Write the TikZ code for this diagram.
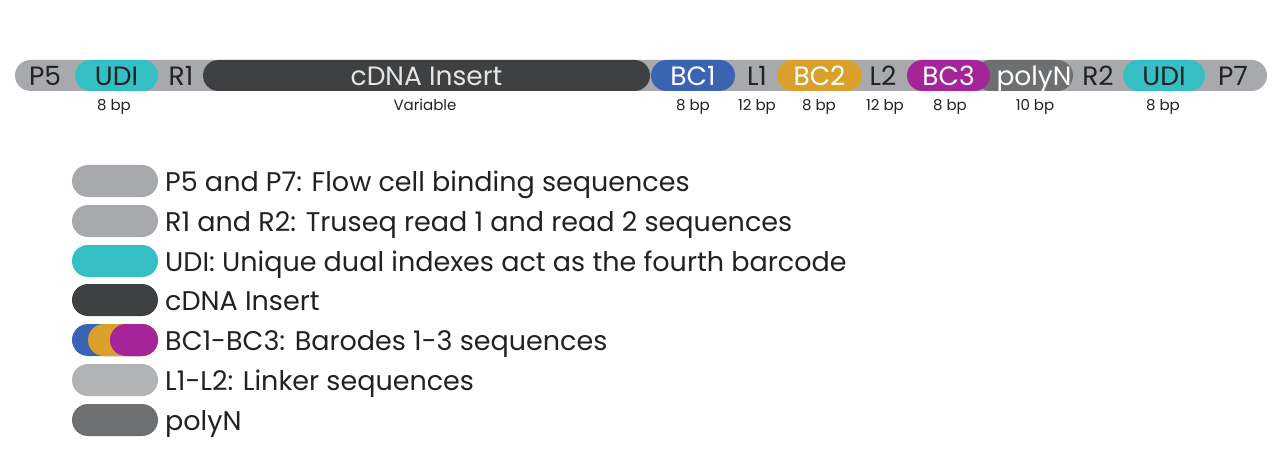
\documentclass[tikz,border=0pt]{standalone}
\usepackage{fontspec}
\setmainfont{Poppins}
\definecolor{seqgray}{HTML}{A7A9AC}
\definecolor{linkgray}{HTML}{B1B3B5}
\definecolor{udicyan}{HTML}{35BEC4}
\definecolor{cdnadark}{HTML}{3F4042}
\definecolor{bcblue}{HTML}{3A63B2}
\definecolor{bcorange}{HTML}{D9A12B}
\definecolor{bcmagenta}{HTML}{A52598}
\definecolor{polygray}{HTML}{6E6F71}
\definecolor{inktext}{HTML}{222222}
\tikzset{
	pill/.style={rectangle,rounded corners=15.5pt,minimum height=31pt,inner sep=0pt,fill=#1},
	legpill/.style={rectangle,rounded corners=16pt,minimum height=32pt,minimum width=86pt,inner sep=0pt,fill=#1},
	bartext/.style={anchor=base,yshift=-10.5pt,inner sep=0pt,font=\fontsize{26.5}{30}\selectfont,text=inktext},
	bptext/.style={anchor=base,inner sep=0pt,font=\fontsize{15}{18}\selectfont,text=inktext},
	legtext/.style={anchor=base west,yshift=-10pt,inner sep=0pt,font=\fontsize{27}{30}\selectfont,text=inktext}
}
\begin{document}
\begin{tikzpicture}[x=1pt,y=-1pt]
	\useasboundingbox[fill=white](0,0) rectangle (1280,468);
	% construct
	\node[pill=seqgray,minimum width=1252pt] (bar) at (641,75.5) {};
	\node[pill=udicyan,minimum width=83pt] (udiL) at (116.5,75.5) {};
	\node[pill=cdnadark,minimum width=447pt] (cdna) at (426.5,75.5) {};
	\node[pill=bcblue,minimum width=84pt] (bcA) at (693,75.5) {};
	\node[pill=bcorange,minimum width=85pt] (bcB) at (819.5,75.5) {};
	\node[pill=polygray,minimum width=98pt] (poly) at (1024,75.5) {};
	\node[pill=bcmagenta,minimum width=83pt] (bcC) at (948.5,75.5) {};
	\node[pill=udicyan,minimum width=82pt] (udiR) at (1164,75.5) {};
	% segment names
	\node[bartext] (tP5) at (45,75.5) {P5};
	\node[bartext] (tudiL) at (udiL) {UDI};
	\node[bartext] (tR1) at (181,75.5) {R1};
	\node[bartext,text=white!90!black] (tcdna) at (cdna) {cDNA Insert};
	\node[bartext,text=white] (tbcA) at (bcA) {BC1};
	\node[bartext] (tL1) at (757,75.5) {L1};
	\node[bartext,text=white] (tbcB) at (bcB) {BC2};
	\node[bartext] (tL2) at (883,75.5) {L2};
	\node[bartext,text=white] (tbcC) at (bcC) {BC3};
	\node[bartext,text=white] (tpoly) at (1034,75.5) {polyN};
	\node[bartext] (tR2) at (1098,75.5) {R2};
	\node[bartext] (tudiR) at (udiR) {UDI};
	\node[bartext] (tP7) at (1233,75.5) {P7};
	% lengths
	\node[bptext] (lenudiL) at (114,111) {8 bp};
	\node[bptext] (lencdna) at (425,111) {Variable};
	\node[bptext] (lenbcA) at (693,111) {8 bp};
	\node[bptext] (lenL1) at (757,111) {12 bp};
	\node[bptext] (lenbcB) at (819,111) {8 bp};
	\node[bptext] (lenL2) at (885,111) {12 bp};
	\node[bptext] (lenbcC) at (950,111) {8 bp};
	\node[bptext] (lenpoly) at (1035,111) {10 bp};
	\node[bptext] (lenudiR) at (1163,111) {8 bp};
	% legend
	\node[legpill=seqgray] (kP) at (115,181) {};
	\node[legpill=seqgray] (kR) at (115,221) {};
	\node[legpill=udicyan] (kU) at (115,261) {};
	\node[legpill=cdnadark] (kC) at (115,300) {};
	\node[legpill=bcblue] (kBa) at (115,340) {};
	\node[legpill=bcorange,minimum width=70pt] (kBb) at (123,340) {};
	\node[legpill=bcmagenta,minimum width=48pt] (kBc) at (134,340) {};
	\node[legpill=linkgray] (kL) at (115,380) {};
	\node[legpill=polygray] (kN) at (115,420) {};
	\node[legtext] (dP) at (165,181) {P5 and P7: Flow cell binding sequences};
	\node[legtext] (dR) at (165,221) {R1 and R2: Truseq read 1 and read 2 sequences};
	\node[legtext] (dU) at (165,261) {UDI: Unique dual indexes act as the fourth barcode};
	\node[legtext] (dC) at (165,300) {cDNA Insert};
	\node[legtext] (dB) at (165,340) {BC1-BC3: Barodes 1-3 sequences};
	\node[legtext] (dL) at (165,380) {L1-L2: Linker sequences};
	\node[legtext] (dN) at (165,420) {polyN};
\end{tikzpicture}
\end{document}
